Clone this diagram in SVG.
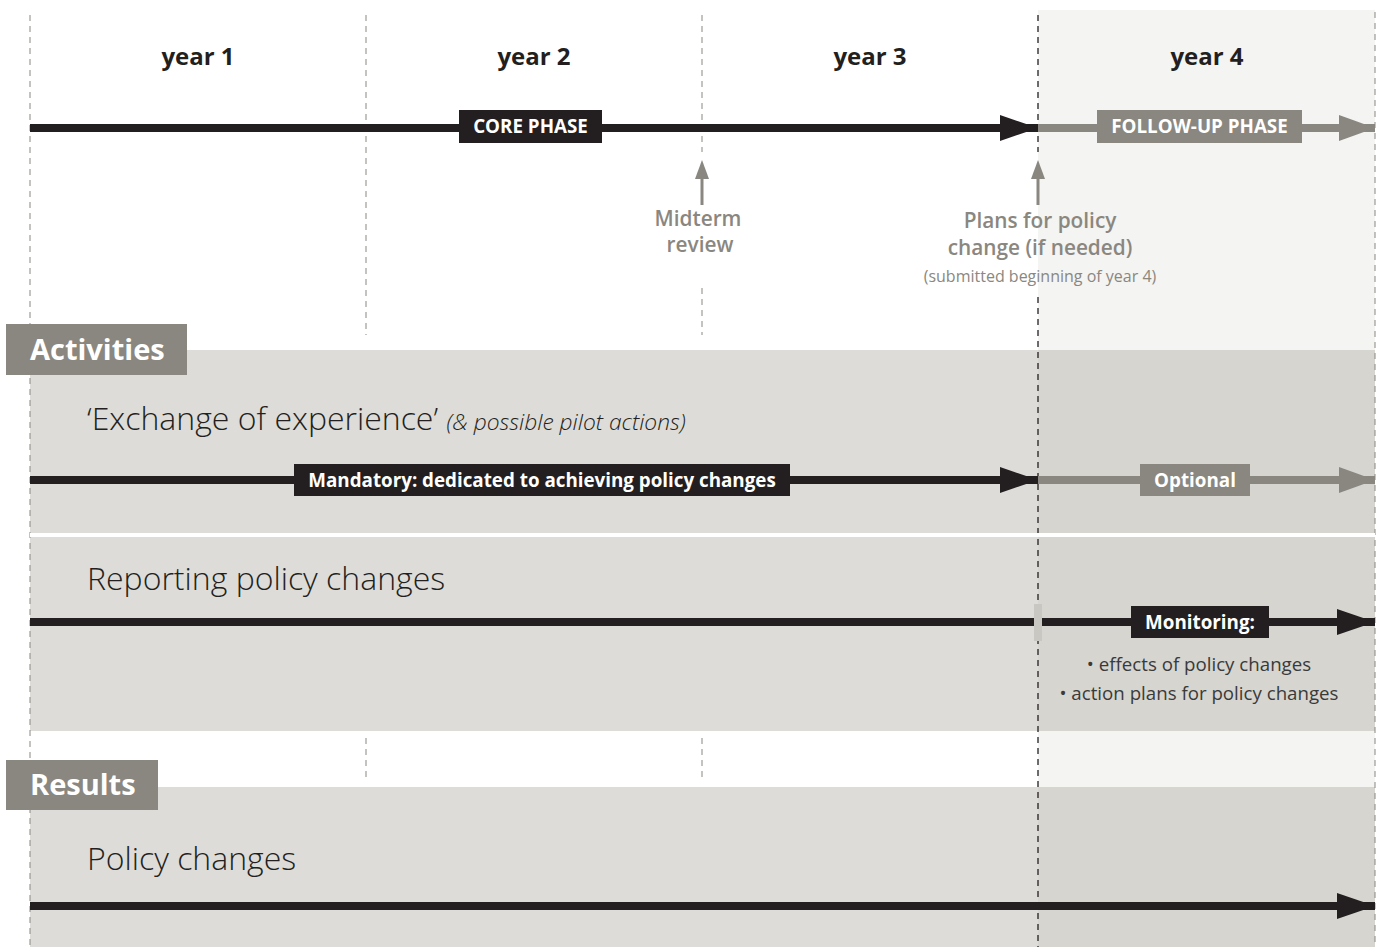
<svg xmlns="http://www.w3.org/2000/svg" width="1379" height="947" viewBox="0 0 1379 947">
<style>
text{font-family:"Open Sans","Noto Sans","Liberation Sans",sans-serif}
.yr{font-size:24px;font-weight:700;fill:#231f20;text-anchor:middle}
.lbl{font-size:18.8px;font-weight:700;fill:#ffffff;text-anchor:middle}
.lbl2{font-size:18.8px;font-weight:700;fill:#ffffff;text-anchor:middle}
.note{font-size:20.8px;font-weight:600;fill:#8a8780;text-anchor:middle}
.big{font-size:32px;font-weight:300;fill:#231f20}
.sec{font-size:29px;font-weight:700;fill:#ffffff}
.bul{font-size:18.7px;fill:#3a3a3a;text-anchor:middle}
.dg{stroke:#8a8780;stroke-width:1;stroke-dasharray:6,5;fill:none}
.dk{stroke:#231f20;stroke-width:1.3;stroke-dasharray:6,5;fill:none}
.blk{stroke:#231f20;stroke-width:8;fill:none}
.gry{stroke:#8a8780;stroke-width:8;fill:none}
</style>
<defs>
<marker id="ab" markerUnits="userSpaceOnUse" markerWidth="40" markerHeight="28" refX="38" refY="13" orient="auto"><path d="M0,0 L38,13 L0,26 Z" fill="#231f20"/></marker>
<marker id="ag" markerUnits="userSpaceOnUse" markerWidth="40" markerHeight="28" refX="36" refY="13" orient="auto"><path d="M0,0 L36,13 L0,26 Z" fill="#8a8780"/></marker>
</defs>
<rect width="1379" height="947" fill="#ffffff"/>
<g id="backgrounds">
<rect x="1038" y="10" width="337" height="937" fill="#f4f4f2"/>
<rect x="30" y="350" width="1008" height="183" fill="#dddcd8"/>
<rect x="1038" y="350" width="337" height="183" fill="#d6d5d0"/>
<rect x="30" y="537" width="1008" height="194" fill="#dddcd8"/>
<rect x="1038" y="537" width="337" height="194" fill="#d6d5d0"/>
<rect x="30" y="787" width="1008" height="160" fill="#dddcd8"/>
<rect x="1038" y="787" width="337" height="160" fill="#d6d5d0"/>
</g>
<g id="gridlines">
<line class="dg" x1="30" y1="15" x2="30" y2="947"/>
<line class="dg" x1="366" y1="15" x2="366" y2="335"/>
<line class="dg" x1="366" y1="738" x2="366" y2="780"/>
<line class="dg" x1="702" y1="15" x2="702" y2="152"/>
<line class="dg" x1="702" y1="288" x2="702" y2="335"/>
<line class="dg" x1="702" y1="738" x2="702" y2="780"/>
<line class="dk" x1="1038" y1="15" x2="1038" y2="152"/>
<line class="dk" x1="1038" y1="297" x2="1038" y2="947"/>
<line class="dg" x1="1375" y1="12" x2="1375" y2="947"/>
</g>
<g id="years">
<text class="yr" x="198" y="65">year 1</text>
<text class="yr" x="534" y="65">year 2</text>
<text class="yr" x="870" y="65">year 3</text>
<text class="yr" x="1207" y="65">year 4</text>
</g>
<g id="connectors">
<line class="blk" x1="30" y1="128" x2="1038" y2="128" marker-end="url(#ab)"/>
<line class="gry" x1="1038" y1="128" x2="1375" y2="128" marker-end="url(#ag)"/>
<line stroke="#8a8780" stroke-width="3" x1="702" y1="205" x2="702" y2="176"/>
<path d="M702,160 L709,179 L695,179 Z" fill="#8a8780"/>
<line stroke="#8a8780" stroke-width="3" x1="1038" y1="205" x2="1038" y2="176"/>
<path d="M1038,160 L1045,179 L1031,179 Z" fill="#8a8780"/>
<line class="blk" x1="30" y1="480" x2="1038" y2="480" marker-end="url(#ab)"/>
<line class="gry" x1="1038" y1="480" x2="1375" y2="480" marker-end="url(#ag)"/>
<line class="blk" x1="30" y1="622" x2="1375" y2="622" marker-end="url(#ab)"/>
<line class="blk" x1="30" y1="906" x2="1375" y2="906" marker-end="url(#ab)"/>
</g>
<g id="core-phase">
<rect x="459" y="110" width="143" height="33" fill="#231f20"/>
<text class="lbl" x="530.5" y="133">CORE PHASE</text>
</g>
<g id="follow-up-phase">
<rect x="1097" y="110" width="205" height="33" fill="#8a8780"/>
<text class="lbl" x="1199.5" y="133">FOLLOW-UP PHASE</text>
</g>
<g id="midterm">
<text class="note" x="698" y="226">Midterm</text>
<text class="note" x="700" y="252">review</text>
</g>
<g id="plans">
<text class="note" x="1040" y="228">Plans for policy</text>
<text class="note" x="1040" y="255">change (if needed)</text>
<text x="1040" y="282" font-size="16" fill="#8a8780" text-anchor="middle">(submitted beginning of year 4)</text>
</g>
<g id="activities">
<rect x="6" y="324" width="181" height="51" fill="#8a8780"/>
<text class="sec" x="30" y="360">Activities</text>
</g>
<g id="exchange">
<text class="big" x="87" y="430">‘Exchange of experience’ <tspan font-size="22.8" font-style="italic" font-weight="300">(&amp; possible pilot actions)</tspan></text>
</g>
<g id="mandatory">
<rect x="294" y="464" width="496" height="32" fill="#231f20"/>
<text class="lbl2" x="542" y="487">Mandatory: dedicated to achieving policy changes</text>
</g>
<g id="optional">
<rect x="1140" y="464" width="110" height="32" fill="#8a8780"/>
<text class="lbl2" x="1195" y="487">Optional</text>
</g>
<rect x="30" y="533" width="1345" height="4" fill="#ffffff"/>
<g id="reporting">
<text class="big" x="87" y="590">Reporting policy changes</text>
</g>
<rect x="1034" y="604" width="8" height="37" fill="#c8c7c2"/>
<g id="monitoring">
<rect x="1131" y="606" width="138" height="32" fill="#231f20"/>
<text class="lbl2" x="1200" y="629">Monitoring:</text>
<text class="bul" x="1199" y="671">• effects of policy changes</text>
<text class="bul" x="1199" y="700">• action plans for policy changes</text>
</g>
<g id="results">
<rect x="6" y="760" width="152" height="50" fill="#8a8780"/>
<text class="sec" x="30" y="795">Results</text>
</g>
<g id="policy-changes">
<text class="big" x="87" y="870">Policy changes</text>
</g>
</svg>
